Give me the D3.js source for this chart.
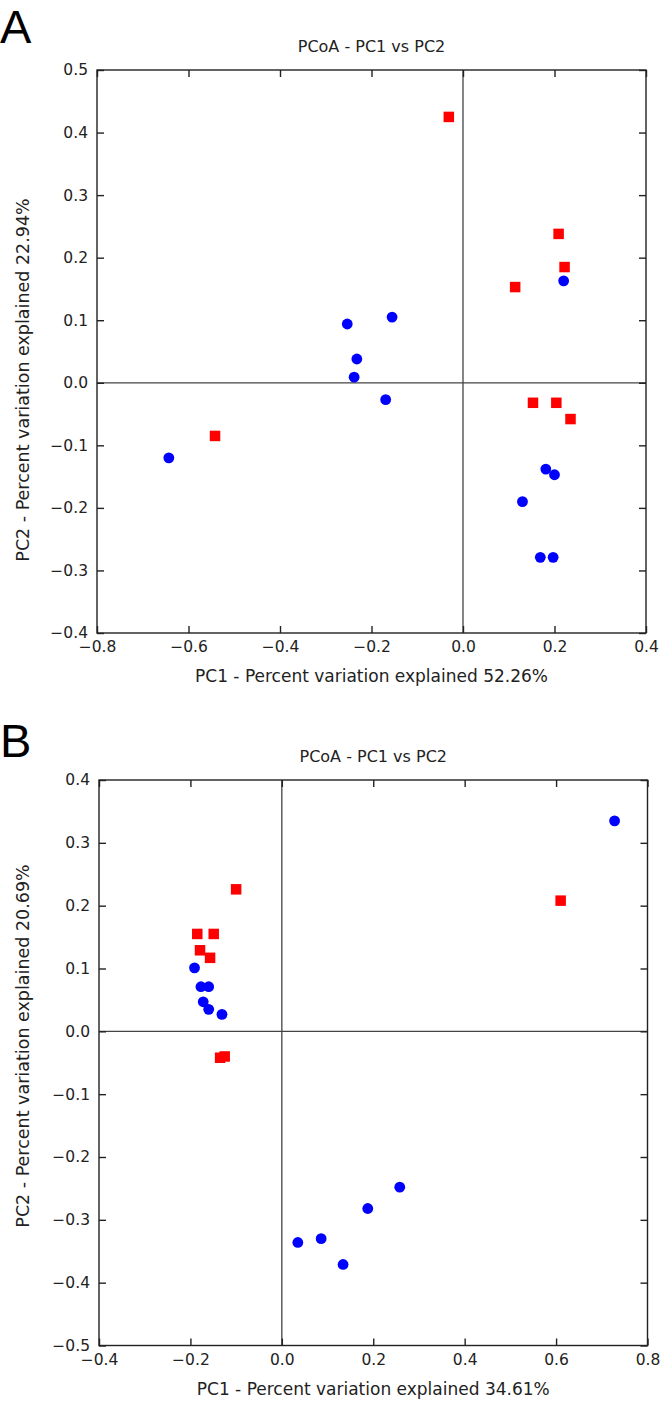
<!DOCTYPE html>
<html>
<head>
<meta charset="utf-8">
<script src="https://cdn.jsdelivr.net/npm/d3@7"></script>
<style>
  html, body { margin: 0; padding: 0; background: #ffffff; }
  svg { display: block; }
  text { font-family: "DejaVu Sans", sans-serif; fill: #222; }
</style>
</head>
<body>
<svg id="chart" width="670" height="1402"></svg>
<script>
// ---------------- DATA ----------------
const panelLabels = ["A", "B"];
const plotTitle = "PCoA - PC1 vs PC2";

// Panel A
const panelA_xLabel = "PC1 - Percent variation explained 52.26%";
const panelA_yLabel = "PC2 - Percent variation explained 22.94%";
const panelA_xTicks = [-0.8, -0.6, -0.4, -0.2, 0.0, 0.2, 0.4];
const panelA_yTicks = [-0.4, -0.3, -0.2, -0.1, 0.0, 0.1, 0.2, 0.3, 0.4, 0.5];
const panelA_redPC1 = [-0.542, -0.031, 0.209, 0.222, 0.114, 0.153, 0.204, 0.235];
const panelA_redPC2 = [-0.085, 0.425, 0.238, 0.185, 0.153, -0.032, -0.032, -0.058];
const panelA_bluePC1 = [-0.643, -0.253, -0.155, -0.232, -0.238, -0.169, 0.220, 0.181, 0.200, 0.130, 0.169, 0.197];
const panelA_bluePC2 = [-0.120, 0.094, 0.105, 0.038, 0.009, -0.027, 0.163, -0.138, -0.147, -0.190, -0.279, -0.279];

// Panel B
const panelB_xLabel = "PC1 - Percent variation explained 34.61%";
const panelB_yLabel = "PC2 - Percent variation explained 20.69%";
const panelB_xTicks = [-0.4, -0.2, 0.0, 0.2, 0.4, 0.6, 0.8];
const panelB_yTicks = [-0.5, -0.4, -0.3, -0.2, -0.1, 0.0, 0.1, 0.2, 0.3, 0.4];
const panelB_redPC1 = [-0.100, -0.185, -0.149, -0.179, -0.157, -0.135, -0.125, 0.610];
const panelB_redPC2 = [0.226, 0.155, 0.155, 0.129, 0.117, -0.042, -0.040, 0.208];
const panelB_bluePC1 = [-0.191, -0.177, -0.160, -0.172, -0.160, -0.131, 0.035, 0.086, 0.134, 0.188, 0.258, 0.728];
const panelB_bluePC2 = [0.101, 0.071, 0.071, 0.047, 0.035, 0.027, -0.336, -0.330, -0.371, -0.282, -0.248, 0.335];

// ---------------- DRAW ----------------
const svg = d3.select("#chart");
const fmt = d3.format(".1f");

function drawPanel(cfg) {
  const x = d3.scaleLinear().domain(cfg.xDomain).range([cfg.left, cfg.right]);
  const y = d3.scaleLinear().domain(cfg.yDomain).range([cfg.bottom, cfg.top]);
  const g = svg.append("g");

  // panel letter
  svg.append("text")
    .attr("x", 0).attr("y", cfg.letterY)
    .style("font-family", "'Liberation Sans', Arial, sans-serif")
    .style("font-size", "47px").style("fill", "#000")
    .text(cfg.letter);

  // title
  g.append("text")
    .attr("x", (cfg.left + cfg.right) / 2).attr("y", cfg.top - 18)
    .attr("text-anchor", "middle")
    .style("font-size", "16px")
    .text(plotTitle);

  // zero lines
  g.append("line")
    .attr("x1", x(0)).attr("x2", x(0)).attr("y1", cfg.top).attr("y2", cfg.bottom)
    .attr("stroke", "#444").attr("stroke-width", 1.3);
  g.append("line")
    .attr("x1", cfg.left).attr("x2", cfg.right).attr("y1", y(0)).attr("y2", y(0))
    .attr("stroke", "#444").attr("stroke-width", 1.3);

  // axes
  const tickLen = -7;
  const axB = g.append("g").attr("transform", `translate(0,${cfg.bottom})`)
    .call(d3.axisBottom(x).tickValues(cfg.xTicks).tickFormat(fmt).tickSizeInner(tickLen).tickSizeOuter(0).tickPadding(8));
  const axT = g.append("g").attr("transform", `translate(0,${cfg.top})`)
    .call(d3.axisTop(x).tickValues(cfg.xTicks).tickFormat("").tickSizeInner(tickLen).tickSizeOuter(0));
  const axL = g.append("g").attr("transform", `translate(${cfg.left},0)`)
    .call(d3.axisLeft(y).tickValues(cfg.yTicks).tickFormat(fmt).tickSizeInner(tickLen).tickSizeOuter(0).tickPadding(9));
  const axR = g.append("g").attr("transform", `translate(${cfg.right},0)`)
    .call(d3.axisRight(y).tickValues(cfg.yTicks).tickFormat("").tickSizeInner(tickLen).tickSizeOuter(0));
  [axB, axT, axL, axR].forEach(a => {
    a.select(".domain").remove();
    a.selectAll(".tick line").attr("stroke", "#222").attr("stroke-width", 1.4);
    a.selectAll(".tick text")
      .style("font-family", "'DejaVu Sans', sans-serif")
      .style("font-size", "15.5px").attr("fill", "#333");
  });

  // frame
  g.append("rect")
    .attr("x", cfg.left).attr("y", cfg.top)
    .attr("width", cfg.right - cfg.left).attr("height", cfg.bottom - cfg.top)
    .attr("fill", "none").attr("stroke", "#222").attr("stroke-width", 1.4);

  // axis labels
  g.append("text")
    .attr("x", (cfg.left + cfg.right) / 2).attr("y", cfg.bottom + 49)
    .attr("text-anchor", "middle")
    .style("font-size", "17px")
    .text(cfg.xLabel);
  g.append("text")
    .attr("transform", `translate(${cfg.yLabelX},${cfg.yLabelCY}) rotate(-90)`)
    .attr("text-anchor", "middle")
    .style("font-size", "17.5px")
    .text(cfg.yLabel);

  // points: red squares then blue circles
  const side = 10.5;
  const red = cfg.redX.map((v, i) => ({ px: v, py: cfg.redY[i] }));
  const blue = cfg.blueX.map((v, i) => ({ px: v, py: cfg.blueY[i] }));
  g.append("g").selectAll("rect").data(red).join("rect")
    .attr("x", d => x(d.px) - side / 2).attr("y", d => y(d.py) - side / 2)
    .attr("width", side).attr("height", side)
    .attr("fill", "#ff0000");
  g.append("g").selectAll("circle").data(blue).join("circle")
    .attr("cx", d => x(d.px)).attr("cy", d => y(d.py)).attr("r", 5.4)
    .attr("fill", "#0000ff");
}

drawPanel({
  letter: panelLabels[0], letterY: 43,
  left: 97, right: 646, top: 70, bottom: 633,
  xDomain: [-0.8, 0.4], yDomain: [-0.4, 0.5],
  xTicks: panelA_xTicks, yTicks: panelA_yTicks,
  xLabel: panelA_xLabel, yLabel: panelA_yLabel,
  yLabelX: 29, yLabelCY: 380,
  redX: panelA_redPC1, redY: panelA_redPC2,
  blueX: panelA_bluePC1, blueY: panelA_bluePC2
});

drawPanel({
  letter: panelLabels[1], letterY: 757,
  left: 99, right: 647.5, top: 780, bottom: 1345.5,
  xDomain: [-0.4, 0.8], yDomain: [-0.5, 0.4],
  xTicks: panelB_xTicks, yTicks: panelB_yTicks,
  xLabel: panelB_xLabel, yLabel: panelB_yLabel,
  yLabelX: 29, yLabelCY: 1046,
  redX: panelB_redPC1, redY: panelB_redPC2,
  blueX: panelB_bluePC1, blueY: panelB_bluePC2
});
</script>
</body>
</html>
